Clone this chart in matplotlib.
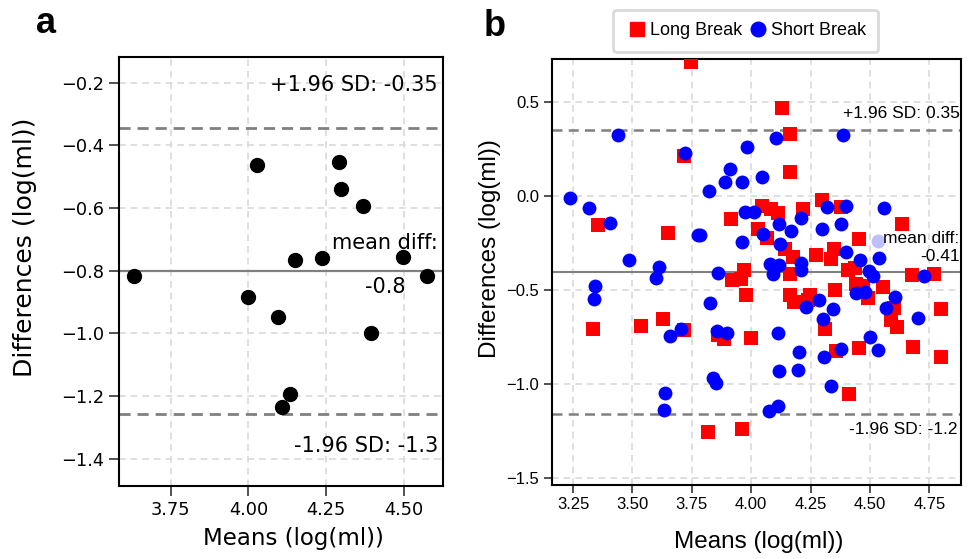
import matplotlib
matplotlib.use("Agg")
import matplotlib.pyplot as plt
from matplotlib.lines import Line2D

# panel a : one group
a_means = [4.028, 4.292, 4.297, 4.368, 4.151, 4.237, 4.496, 3.633, 4.576,
           4.000, 4.095, 4.396, 4.134, 4.108]
a_diffs = [-0.462, -0.453, -0.540, -0.595, -0.766, -0.759, -0.757, -0.817, -0.817,
           -0.883, -0.949, -1.000, -1.193, -1.234]
a_mean, a_upper, a_lower = -0.802, -0.346, -1.258

# panel b : long break (squares)
long_means = [3.747, 3.716, 4.128, 4.165, 4.163, 3.355, 3.649, 3.916, 4.044, 4.083,
              4.114, 4.217, 4.296, 4.379, 4.635, 4.030, 4.068, 4.143, 4.177, 4.455,
              4.272, 4.337, 4.348, 3.971, 3.955, 3.918, 4.163, 4.409, 4.437, 4.678,
              4.770, 4.440, 4.470, 4.556, 4.493, 4.353, 4.163, 4.182, 4.247, 4.240,
              3.977, 4.311, 4.590, 4.615, 4.603, 4.797, 3.336, 3.536, 3.628, 3.717,
              3.862, 3.886, 3.998, 4.356, 4.455, 4.682, 4.801, 4.412, 3.819, 3.960]
long_diffs = [0.710, 0.213, 0.466, 0.328, 0.124, -0.158, -0.200, -0.124, -0.055, -0.070,
              -0.094, -0.069, -0.025, -0.058, -0.151, -0.180, -0.225, -0.285, -0.324, -0.230,
              -0.315, -0.335, -0.285, -0.395, -0.445, -0.448, -0.418, -0.395, -0.383, -0.422,
              -0.415, -0.470, -0.482, -0.484, -0.546, -0.503, -0.528, -0.564, -0.530, -0.555,
              -0.526, -0.711, -0.660, -0.697, -0.599, -0.604, -0.711, -0.691, -0.656, -0.714,
              -0.741, -0.764, -0.759, -0.824, -0.812, -0.803, -0.860, -1.056, -1.259, -1.241]

# panel b : short break (circles)
short_means = [3.439, 3.720, 3.982, 3.912, 3.888, 3.963, 3.824, 4.047, 3.237, 3.316,
               4.106, 4.385, 3.406, 3.775, 3.786, 3.487, 3.612, 3.600, 3.963, 3.975,
               4.013, 4.319, 4.399, 4.560, 4.211, 4.117, 4.167, 4.051, 4.120, 4.079,
               4.117, 4.093, 4.298, 4.378, 4.399, 4.458, 4.539, 4.211, 4.209, 3.862,
               4.496, 4.514, 4.727, 4.441, 4.479, 4.606, 4.567, 4.703, 4.231, 4.287,
               4.343, 4.303, 3.344, 3.340, 3.827, 3.658, 3.703, 3.855, 3.897, 3.840,
               3.852, 3.638, 3.632, 4.074, 4.112, 4.112, 4.118, 4.196, 4.201, 4.305,
               4.336, 4.379, 4.534, 4.500]
short_diffs = [0.323, 0.227, 0.259, 0.142, 0.073, 0.073, 0.027, 0.098, -0.012, -0.065,
               0.309, 0.325, -0.145, -0.211, -0.211, -0.340, -0.377, -0.436, -0.246, -0.089,
               -0.087, -0.060, -0.056, -0.065, -0.120, -0.152, -0.188, -0.205, -0.259, -0.366,
               -0.370, -0.418, -0.180, -0.151, -0.298, -0.342, -0.333, -0.360, -0.395, -0.410,
               -0.400, -0.428, -0.429, -0.517, -0.514, -0.539, -0.597, -0.649, -0.590, -0.553,
               -0.604, -0.657, -0.479, -0.551, -0.570, -0.745, -0.709, -0.720, -0.729, -0.968,
               -0.998, -1.048, -1.140, -1.147, -1.117, -0.732, -0.932, -0.927, -0.833, -0.856,
               -1.011, -0.815, -0.821, -0.750]
faded_means = [4.532]
faded_diffs = [-0.241]
b_mean, b_upper, b_lower = -0.407, 0.348, -1.163

fig = plt.figure(figsize=(9.73, 5.59), dpi=100)
ax1 = fig.add_axes([0.1226, 0.1306, 0.3324, 0.768])
ax2 = fig.add_axes([0.567, 0.1324, 0.4204, 0.7621])

# ---- panel a
dv = "DejaVu Sans"
ax1.scatter(a_means, a_diffs, s=100, color="black", zorder=3)
ax1.axhline(a_mean, color="gray", lw=1.6, zorder=2)
ax1.axhline(a_upper, color="gray", lw=2, ls="--", dashes=(4, 2.5), zorder=2)
ax1.axhline(a_lower, color="gray", lw=2, ls="--", dashes=(4, 2.5), zorder=2)
ax1.set_xlim(3.585, 4.625)
ax1.set_ylim(-1.487, -0.117)
ax1.set_xticks([3.75, 4.00, 4.25, 4.50])
ax1.set_yticks([-1.4, -1.2, -1.0, -0.8, -0.6, -0.4, -0.2])
ax1.grid(True, color="0.85", ls="--", lw=1.2, dashes=(4, 3))
ax1.set_axisbelow(True)
ytr1 = ax1.get_yaxis_transform()
ax1.text(0.985, a_upper + 0.14, "+1.96 SD: %.2g" % a_upper, transform=ytr1,
         ha="right", va="center", fontsize=15, family=dv)
ax1.text(0.985, a_mean + 0.02, "mean diff:\n\n%.2g" % a_mean, transform=ytr1,
         ha="right", va="center", multialignment="center", fontsize=15, family=dv,
         linespacing=1.15)
ax1.text(0.985, a_lower - 0.1, "-1.96 SD: %.2g" % a_lower, transform=ytr1,
         ha="right", va="center", fontsize=15, family=dv)
ax1.set_xlabel("Means (log(ml))", fontsize=16.5, family=dv)
ax1.set_ylabel("Differences (log(ml))", fontsize=18, family=dv)
ax1.xaxis.set_label_coords(0.538, -0.0955)
ax1.yaxis.set_label_coords(-0.254, 0.556)
for lab in ax1.get_xticklabels() + ax1.get_yticklabels():
    lab.set_family(dv)
ax1.tick_params(labelsize=12.8, length=7, width=1.2, color="0.2", pad=4)
for sp in ax1.spines.values():
    sp.set_linewidth(1.5)

# ---- panel b
lb = "Liberation Sans"
ax2.scatter(long_means, long_diffs, s=110, marker="s", color="red", lw=0, zorder=3)
ax2.scatter(short_means, short_diffs, s=100, marker="o", color="blue", lw=0, zorder=3)
ax2.scatter(faded_means, faded_diffs, s=100, marker="o", color="blue", alpha=0.25, lw=0, zorder=3)
ax2.axhline(b_mean, color="gray", lw=1.5, zorder=2)
ax2.axhline(b_upper, color="gray", lw=1.8, ls="--", dashes=(4, 2.5), zorder=2)
ax2.axhline(b_lower, color="gray", lw=1.8, ls="--", dashes=(4, 2.5), zorder=2)
ax2.set_xlim(3.160, 4.882)
ax2.set_ylim(-1.539, 0.727)
ax2.set_xticks([3.25, 3.50, 3.75, 4.00, 4.25, 4.50, 4.75])
ax2.set_yticks([-1.5, -1.0, -0.5, 0.0, 0.5])
ax2.grid(True, color="0.85", ls="--", lw=1.2, dashes=(4, 3))
ax2.set_axisbelow(True)
ytr2 = ax2.get_yaxis_transform()
ax2.text(0.997, b_upper + 0.09, "+1.96 SD: %.2g" % b_upper, transform=ytr2,
         ha="right", va="center", fontsize=12.5, family=lb)
ax2.text(0.997, b_mean + 0.045, "mean diff:\n%.2g" % b_mean, transform=ytr2,
         ha="right", va="bottom", multialignment="right", fontsize=12.5, family=lb,
         linespacing=1.2)
ax2.text(0.992, b_lower - 0.08, "-1.96 SD: %.2g" % b_lower, transform=ytr2,
         ha="right", va="center", fontsize=12.5, family=lb)
ax2.set_xlabel("Means (log(ml))", fontsize=17.5, family=lb)
ax2.set_ylabel("Differences (log(ml))", fontsize=17.5, family=lb)
ax2.xaxis.set_label_coords(0.505, -0.108)
ax2.yaxis.set_label_coords(-0.124, 0.556)
for lab in ax2.get_xticklabels() + ax2.get_yticklabels():
    lab.set_family(lb)
ax2.tick_params(labelsize=12, length=5.5, width=1.2, color="0.2", pad=3.5)
for sp in ax2.spines.values():
    sp.set_linewidth(1.5)

handles = [Line2D([], [], ls="", marker="s", ms=10.5, color="red"),
           Line2D([], [], ls="", marker="o", ms=10.5, color="blue")]
leg = ax2.legend(handles, ["Long Break", "Short Break"], loc="center",
                 bbox_to_anchor=(0.475, 1.066), ncol=2,
                 handlelength=1.2, handletextpad=0.1, columnspacing=0.3,
                 borderpad=0.7, prop={"family": lb, "size": 13}, fancybox=True)
leg.get_frame().set_edgecolor("0.82")
leg.get_frame().set_linewidth(2)

fig.text(0.037, 0.941, "a", fontsize=26, fontweight="bold", family=lb, va="baseline")
fig.text(0.497, 0.936, "b", fontsize=26, fontweight="bold", family=lb, va="baseline")

fig.savefig("out.png", dpi=100)
